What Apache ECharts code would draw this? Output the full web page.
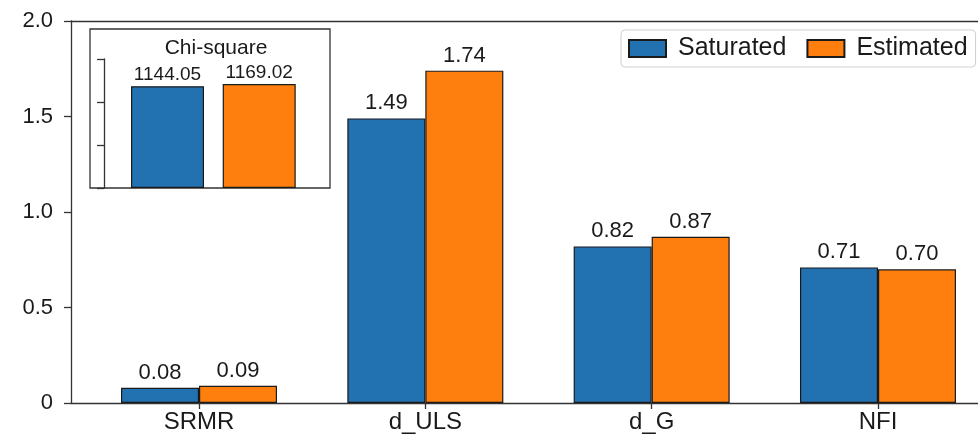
<!DOCTYPE html>
<html>
<head>
<meta charset="utf-8">
<script src="https://cdn.jsdelivr.net/npm/echarts@6/dist/echarts.min.js"></script>
<style>
  html, body { margin: 0; padding: 0; background: #fff; overflow: hidden; }
  /* the plot area runs past the right edge of the window */
  #chart { width: 1040px; height: 436px; }
</style>
</head>
<body>
<div id="chart"></div>
<script>
// Model fit indices, saturated vs. estimated model
const categories = ['SRMR', 'd_ULS', 'd_G', 'NFI'];
const saturated = [0.08, 1.49, 0.82, 0.71];
const estimated = [0.09, 1.74, 0.87, 0.70];
const seriesNames = ['Saturated', 'Estimated'];
const yTicks = [0, 0.5, 1.0, 1.5, 2.0];

// Inset: chi-square statistic
const chiTitle = 'Chi-square';
const chiSquare = [1144.05, 1169.02];

const BLUE = '#2271b1';
const ORANGE = '#ff7f0e';
const INK = '#1a1a1a';
const AXIS = '#333';
const FONT = '"Liberation Sans", Arial, Helvetica, sans-serif';

const catPos = categories.map((_, i) => i);
const chiColors = [BLUE, ORANGE];

const chart = echarts.init(document.getElementById('chart'));

const barLabel = (size, dist) => ({
  show: true,
  position: 'top',
  distance: dist,
  fontFamily: FONT,
  fontSize: size,
  color: INK,
  formatter: p => p.value[1].toFixed(2)
});

const spine = () => ({ show: true, onZero: false, lineStyle: { color: AXIS, width: 1.3 } });
const tickStyle = len => ({ show: true, length: len, lineStyle: { color: AXIS, width: 1.3 } });

chart.setOption({
  animation: false,
  backgroundColor: '#fff',
  title: {
    text: chiTitle,
    left: 211,
    top: 33,
    textAlign: 'center',
    textStyle: { fontFamily: FONT, fontSize: 21, fontWeight: 'normal', color: INK }
  },
  legend: {
    data: seriesNames,
    left: 621,
    top: 30,
    padding: [6, 8, 6, 7],
    icon: 'rect',
    itemWidth: 37,
    itemHeight: 17,
    itemGap: 20,
    borderColor: '#cfcfcf',
    borderWidth: 1,
    borderRadius: 4,
    backgroundColor: '#fff',
    textStyle: { fontFamily: FONT, fontSize: 25, color: INK, padding: [0, 0, 0, 7] }
  },
  grid: [
    // main plot area
    { left: 71, top: 21, width: 935, height: 382, outerBoundsMode: 'none' },
    // inset frame
    { left: 90, top: 29, width: 240, height: 159, show: true, outerBoundsMode: 'none',
      borderColor: AXIS, borderWidth: 1.3, backgroundColor: '#fff' },
    // inset plot area
    { left: 104, top: 59, width: 226, height: 129, outerBoundsMode: 'none' }
  ],
  xAxis: [
    {
      gridIndex: 0, type: 'value', min: -0.5656, max: 3.5656,
      axisLine: spine(),
      axisTick: Object.assign(tickStyle(6), { customValues: catPos }),
      axisLabel: { customValues: catPos, margin: 7, fontFamily: FONT, fontSize: 24, color: INK,
        formatter: v => categories[Math.round(v)] },
      splitLine: { show: false }
    },
    { gridIndex: 1, type: 'value', min: 0, max: 1, show: false },
    { gridIndex: 2, type: 'value', min: -0.6925, max: 1.772, show: false },
    // top spine of the main plot
    {
      gridIndex: 0, type: 'value', position: 'top', min: -0.5656, max: 3.5656,
      axisLine: spine(), axisTick: { show: false }, axisLabel: { show: false }, splitLine: { show: false }
    }
  ],
  yAxis: [
    {
      gridIndex: 0, type: 'value', min: yTicks[0], max: yTicks[yTicks.length - 1], interval: 0.5,
      axisLine: spine(),
      axisTick: tickStyle(7),
      axisLabel: { margin: 18, fontFamily: FONT, fontSize: 22, color: INK,
        formatter: v => (v === 0 ? '0' : v.toFixed(1)) },
      splitLine: { show: false }
    },
    { gridIndex: 1, type: 'value', min: 0, max: 1, show: false },
    {
      gridIndex: 2, type: 'value', min: 0, max: 1450, interval: 1450 / 3,
      axisLine: spine(),
      axisTick: tickStyle(7),
      axisLabel: { show: false },
      splitLine: { show: false }
    }
  ],
  series: [
    {
      name: seriesNames[0], type: 'bar', xAxisIndex: 0, yAxisIndex: 0,
      barWidth: 78, barGap: '0%',
      data: catPos.map(i => [i, saturated[i]]),
      itemStyle: { color: BLUE, borderColor: INK, borderWidth: 1.2 },
      label: barLabel(22, 4)
    },
    {
      name: seriesNames[1], type: 'bar', xAxisIndex: 0, yAxisIndex: 0,
      barWidth: 78, barGap: '0%',
      data: catPos.map(i => [i, estimated[i]]),
      itemStyle: { color: ORANGE, borderColor: INK, borderWidth: 1.2 },
      label: barLabel(22, 4)
    },
    {
      name: chiTitle, type: 'bar', xAxisIndex: 2, yAxisIndex: 2,
      barWidth: 73,
      data: chiSquare.map((v, i) => ({ value: [i, v], itemStyle: { color: chiColors[i] } })),
      itemStyle: { borderColor: INK, borderWidth: 1.2 },
      label: barLabel(19, 2)
    }
  ]
});
</script>
</body>
</html>
